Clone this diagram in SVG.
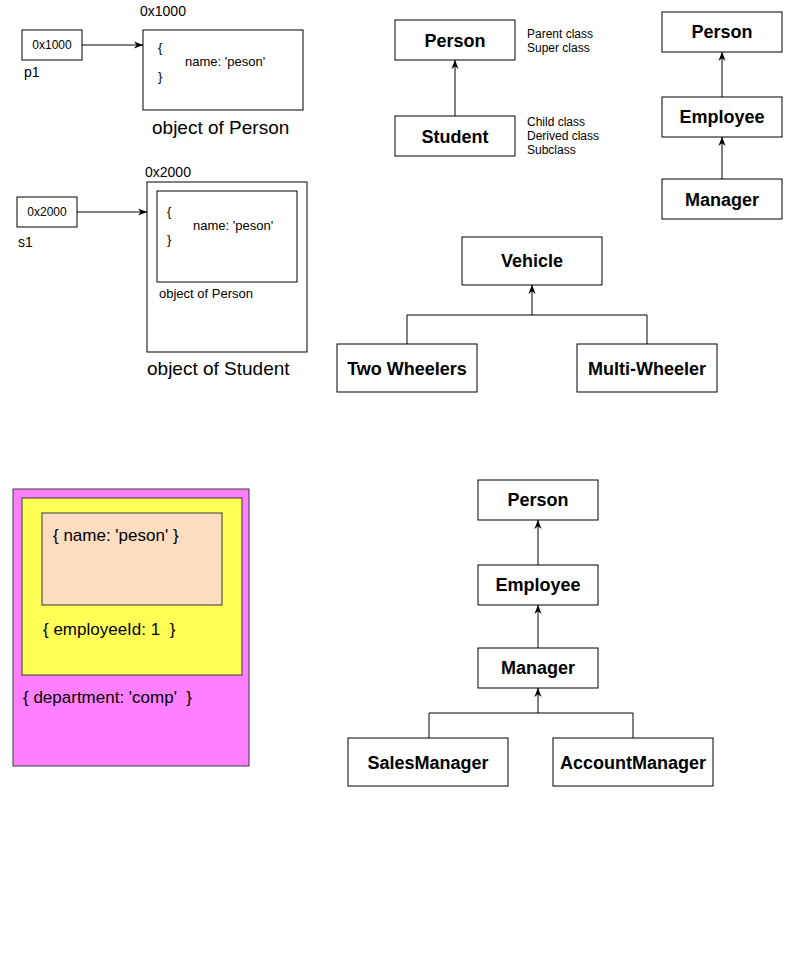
<svg xmlns="http://www.w3.org/2000/svg" width="791" height="953" viewBox="0 0 791 953">
<style>
text{font-family:"Liberation Sans",Arial,Helvetica,sans-serif;fill:#000}
.box{fill:#fff;stroke:#000;stroke-width:1}
.b{font-weight:bold;font-size:18px;text-anchor:middle}
.s12{font-size:12px}
.s13{font-size:13px}
.s14{font-size:14px}
.s19{font-size:19px}
.s17{font-size:17px}
.ln{fill:none;stroke:#000;stroke-width:1}
</style>
<defs>
<marker id="arr" viewBox="0 0 10 8" markerWidth="9" markerHeight="8" refX="10" refY="4" orient="auto" markerUnits="userSpaceOnUse">
<path d="M0,0 L10,4 L0,8 L3,4 Z" fill="#000"/>
</marker>
</defs>
<rect width="791" height="953" fill="#fff"/>

<g id="connectors">
<line class="ln" x1="82" y1="45" x2="143" y2="45" marker-end="url(#arr)"/>
<line class="ln" x1="77" y1="212" x2="147" y2="212" marker-end="url(#arr)"/>
<line class="ln" x1="455" y1="116" x2="455" y2="60" marker-end="url(#arr)"/>
<line class="ln" x1="722" y1="97" x2="722" y2="52" marker-end="url(#arr)"/>
<line class="ln" x1="722" y1="179" x2="722" y2="137" marker-end="url(#arr)"/>
<polyline class="ln" points="407,344 407,315 532,315 532,285" marker-end="url(#arr)"/>
<polyline class="ln" points="647,344 647,315 532,315"/>
<line class="ln" x1="538" y1="565" x2="538" y2="520" marker-end="url(#arr)"/>
<line class="ln" x1="538" y1="648" x2="538" y2="605" marker-end="url(#arr)"/>
<polyline class="ln" points="429,738 429,713 538,713 538,688" marker-end="url(#arr)"/>
<polyline class="ln" points="633,738 633,713 538,713"/>
</g>

<g id="p1">
<rect class="box" x="22" y="30" width="60" height="30"/>
<text class="s12" x="52" y="49" text-anchor="middle">0x1000</text>
<text class="s14" x="24" y="77">p1</text>
</g>
<g id="personObject">
<text class="s14" x="140" y="16">0x1000</text>
<rect class="box" x="143" y="30" width="160" height="80"/>
<text class="s13" x="158" y="52">{</text>
<text class="s13" x="185" y="66">name: 'peson'</text>
<text class="s13" x="158" y="81">}</text>
<text class="s19" x="152" y="134">object of Person</text>
</g>

<g id="s1">
<rect class="box" x="17" y="197" width="60" height="30"/>
<text class="s12" x="47" y="216" text-anchor="middle">0x2000</text>
<text class="s14" x="18" y="247">s1</text>
</g>
<g id="studentObject">
<text class="s14" x="145" y="177">0x2000</text>
<rect class="box" x="147" y="182" width="160" height="170"/>
<rect class="box" x="157" y="191" width="140" height="91"/>
<text class="s13" x="167" y="216">{</text>
<text class="s13" x="193" y="230">name: 'peson'</text>
<text class="s13" x="167" y="244">}</text>
<text class="s13" x="159" y="298">object of Person</text>
<text class="s19" x="147" y="375">object of Student</text>
</g>

<g id="person1">
<rect class="box" x="395" y="20" width="120" height="40"/>
<text class="b" x="455" y="47">Person</text>
<text class="s12" x="527" y="38">Parent class</text>
<text class="s12" x="527" y="52">Super class</text>
</g>
<g id="student1">
<rect class="box" x="395" y="116" width="120" height="40"/>
<text class="b" x="455" y="143">Student</text>
<text class="s12" x="527" y="126">Child class</text>
<text class="s12" x="527" y="140">Derived class</text>
<text class="s12" x="527" y="154">Subclass</text>
</g>

<g id="person2">
<rect class="box" x="662" y="12" width="120" height="40"/>
<text class="b" x="722" y="38">Person</text>
</g>
<g id="employee2">
<rect class="box" x="662" y="97" width="120" height="40"/>
<text class="b" x="722" y="123">Employee</text>
</g>
<g id="manager2">
<rect class="box" x="662" y="179" width="120" height="40"/>
<text class="b" x="722" y="206">Manager</text>
</g>

<g id="vehicle">
<rect class="box" x="462" y="237" width="140" height="48"/>
<text class="b" x="532" y="267">Vehicle</text>
</g>
<g id="twoWheelers">
<rect class="box" x="337" y="344" width="140" height="48"/>
<text class="b" x="407" y="375">Two Wheelers</text>
</g>
<g id="multiWheeler">
<rect class="box" x="577" y="344" width="140" height="48"/>
<text class="b" x="647" y="375">Multi-Wheeler</text>
</g>

<g id="memoryLayout">
<rect x="13" y="489" width="236" height="277" fill="#FF80FF" stroke="#36393d"/>
<rect x="22" y="498" width="220" height="177" fill="#FFFF55" stroke="#36393d"/>
<rect x="42" y="513" width="180" height="92" fill="#FFDDC1" stroke="#36393d"/>
<text class="s17" x="53" y="541" xml:space="preserve">{ name: 'peson' }</text>
<text class="s17" x="43" y="635" xml:space="preserve">{ employeeId: 1  }</text>
<text class="s17" x="23" y="703" xml:space="preserve">{ department: 'comp'  }</text>
</g>

<g id="person3">
<rect class="box" x="478" y="480" width="120" height="40"/>
<text class="b" x="538" y="506">Person</text>
</g>
<g id="employee3">
<rect class="box" x="478" y="565" width="120" height="40"/>
<text class="b" x="538" y="591">Employee</text>
</g>
<g id="manager3">
<rect class="box" x="478" y="648" width="120" height="40"/>
<text class="b" x="538" y="674">Manager</text>
</g>
<g id="salesManager">
<rect class="box" x="348" y="738" width="160" height="48"/>
<text class="b" x="428" y="769">SalesManager</text>
</g>
<g id="accountManager">
<rect class="box" x="553" y="738" width="160" height="48"/>
<text class="b" x="633" y="769">AccountManager</text>
</g>
</svg>
